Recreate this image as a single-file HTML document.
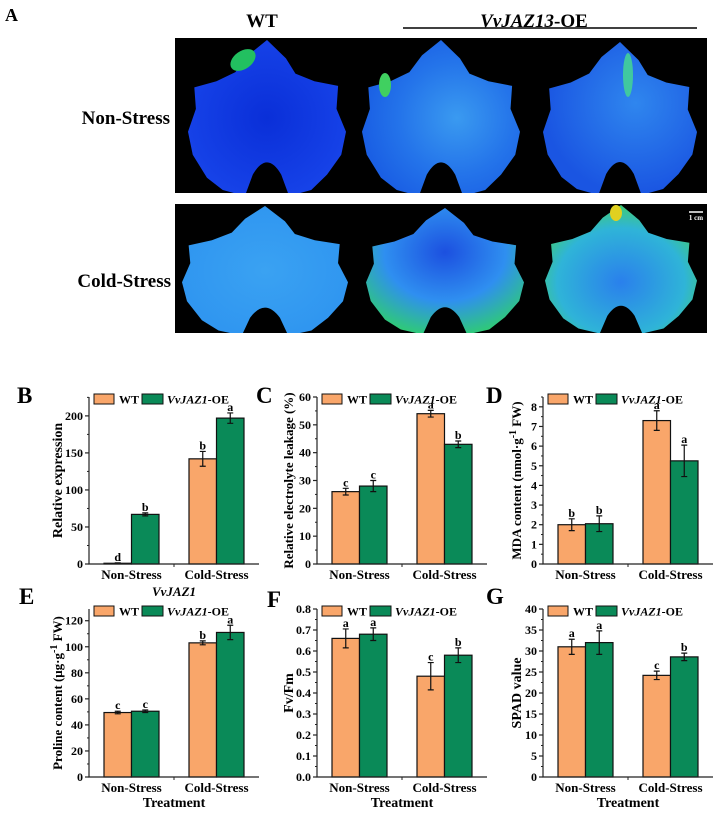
<!DOCTYPE html>
<html><head><meta charset="utf-8"><style>
html,body{margin:0;padding:0;background:#fff;}
svg text{font-family:"Liberation Serif",serif;font-weight:bold;}
</style></head><body>
<svg id="fig" width="719" height="811" viewBox="0 0 719 811" xmlns="http://www.w3.org/2000/svg">
<defs>
<radialGradient id="gWtNs" cx="0.5" cy="0.5" r="0.6"><stop offset="0" stop-color="#0a2fd8"/><stop offset="1" stop-color="#1845ea"/></radialGradient>
<radialGradient id="gOeNs1" cx="0.6" cy="0.5" r="0.6"><stop offset="0" stop-color="#3a9af0"/><stop offset="0.6" stop-color="#2474ea"/><stop offset="1" stop-color="#1a5fe4"/></radialGradient>
<radialGradient id="gOeNs2" cx="0.6" cy="0.4" r="0.6"><stop offset="0" stop-color="#2f86ee"/><stop offset="1" stop-color="#1a55e2"/></radialGradient>
<radialGradient id="gWtCs" cx="0.5" cy="0.5" r="0.6"><stop offset="0" stop-color="#3aa2f2"/><stop offset="1" stop-color="#2e94f0"/></radialGradient>
<radialGradient id="gOeCs1" cx="0.5" cy="0.35" r="0.7"><stop offset="0" stop-color="#1c50e0"/><stop offset="0.55" stop-color="#2f8ff0"/><stop offset="1" stop-color="#2fd06a"/></radialGradient>
<radialGradient id="gOeCs2" cx="0.5" cy="0.6" r="0.7"><stop offset="0" stop-color="#2a80ec"/><stop offset="0.6" stop-color="#2fb4d8"/><stop offset="1" stop-color="#48d840"/></radialGradient>
<clipPath id="clipTop"><rect x="175" y="38" width="532" height="155"/></clipPath>
<clipPath id="clipBot"><rect x="175" y="204" width="532" height="129"/></clipPath>
<path id="leaf" d="M50,0 L62,12 L68,22 L80,27 L95,30 L94,45 L100,60 L97,75 L88,88 L78,98 L64,102 L59,88 Q50,72 41,88 L36,102 L22,98 L12,90 L3,75 L0,60 L5,45 L4,31 L18,27 L30,21 L38,10 Z"/>
</defs>
<g>
<text x="5" y="21" font-size="18">A</text>
<text x="262" y="27" font-size="19" text-anchor="middle">WT</text>
<text x="534" y="27" font-size="19" text-anchor="middle"><tspan font-style="italic">VvJAZ13</tspan>-OE</text>
<line x1="403" y1="28" x2="697" y2="28" stroke="#000" stroke-width="1.5"/>
<text x="170" y="124" font-size="19" text-anchor="end">Non-Stress</text>
<text x="171" y="287" font-size="19" text-anchor="end">Cold-Stress</text>
<rect x="175" y="38" width="532" height="155" fill="#000"/>
<rect x="175" y="204" width="532" height="129" fill="#000"/>
<g clip-path="url(#clipTop)">
<g><use href="#leaf" transform="translate(188,40) scale(1.58,1.53)" fill="url(#gWtNs)"/><ellipse cx="243" cy="60" rx="14" ry="9" fill="#22c060" transform="rotate(-35 243 60)"/></g>
<g><use href="#leaf" transform="translate(362,40) scale(1.58,1.53)" fill="url(#gOeNs1)"/><ellipse cx="385" cy="85" rx="6" ry="12" fill="#40d060"/></g>
<g><use href="#leaf" transform="translate(543,42) scale(1.54,1.5)" fill="url(#gOeNs2)"/><ellipse cx="628" cy="75" rx="5" ry="22" fill="#40c8a0"/></g>
</g>
<g clip-path="url(#clipBot)">
<g><use href="#leaf" transform="translate(182,206) scale(1.66,1.27)" fill="url(#gWtCs)"/></g>
<g><use href="#leaf" transform="translate(366,208) scale(1.58,1.24)" fill="url(#gOeCs1)"/></g>
<g><use href="#leaf" transform="translate(545,205) scale(1.52,1.26)" fill="url(#gOeCs2)"/><ellipse cx="616" cy="213" rx="6" ry="8" fill="#e0d020"/></g>
</g>
<line x1="689" y1="212" x2="703" y2="212" stroke="#fff" stroke-width="1.5"/>
<text x="696" y="220" font-size="7" fill="#fff" text-anchor="middle" font-weight="normal">1 cm</text>
</g>
<g id="charts"></g>
</svg>
<script>
// Panel B
const bCategories = ["Non-Stress","Cold-Stress"];
const bWT = [1, 142];
const bOE = [67, 197];
const bWTErr = [0.5, 10];
const bOEErr = [2, 7];
const bWTLetters = ["d","b"];
const bOELetters = ["b","a"];
const bTicks = ["0","50","100","150","200"];
// Panel C
const cWT = [26, 54];
const cOE = [28, 43];
const cWTErr = [1.2, 1.2];
const cOEErr = [2, 1.2];
const cWTLetters = ["c","a"];
const cOELetters = ["c","b"];
const cTicks = ["0","10","20","30","40","50","60"];
// Panel D
const dWT = [2.0, 7.3];
const dOE = [2.05, 5.25];
const dWTErr = [0.3, 0.5];
const dOEErr = [0.4, 0.8];
const dWTLetters = ["b","a"];
const dOELetters = ["b","a"];
const dTicks = ["0","1","2","3","4","5","6","7","8"];
// Panel E
const eWT = [49.5, 103];
const eOE = [50.5, 111];
const eWTErr = [1, 1.5];
const eOEErr = [1, 5.5];
const eWTLetters = ["c","b"];
const eOELetters = ["c","a"];
const eTicks = ["0","20","40","60","80","100","120"];
// Panel F
const fWT = [0.66, 0.48];
const fOE = [0.68, 0.58];
const fWTErr = [0.045, 0.065];
const fOEErr = [0.03, 0.035];
const fWTLetters = ["a","c"];
const fOELetters = ["a","b"];
const fTicks = ["0.0","0.1","0.2","0.3","0.4","0.5","0.6","0.7","0.8"];
// Panel G
const gWT = [31, 24.2];
const gOE = [32, 28.6];
const gWTErr = [1.8, 1.0];
const gOEErr = [2.8, 0.9];
const gWTLetters = ["a","c"];
const gOELetters = ["a","b"];
const gTicks = ["0","5","10","15","20","25","30","35","40"];

const NS = "http://www.w3.org/2000/svg";
const root = document.getElementById("charts");
function mk(tag, attrs, parent, txt){
  const e = document.createElementNS(NS, tag);
  for (const k in attrs) e.setAttribute(k, attrs[k]);
  if (txt !== undefined) e.textContent = txt;
  parent.appendChild(e);
  return e;
}
const ORANGE = "#f9a66a", GREEN = "#0a8a58";

function chart(p){
  const g = mk("g", {}, root);
  
  
  const W = 170, x0 = p.x0, yb = p.yb, yt = p.yt;
  const ys = v => yb - (v / p.ymax) * (yb - yt);
  const xc = i => x0 + W * (0.25 + 0.5 * i);
  const bw = 27.5;
  const pl = mk("text", {x:p.lx, y:p.ly, "font-size":23}, g, p.id.toUpperCase());
  
  
  const series = [{v:p.wt, e:p.wte, l:p.wtl, c:ORANGE, off:-1, n:"wt"},{v:p.oe, e:p.oee, l:p.oel, c:GREEN, off:0, n:"oe"}];
  series.forEach(s => {
    s.v.forEach((v,i) => {
      const x = xc(i) + s.off * bw;
      const r = mk("rect", {x:x, y:ys(v), width:bw, height:yb - ys(v), fill:s.c, stroke:"#111", "stroke-width":1.2}, g);
      
      
      const cx = x + bw/2, ytop = ys(v + s.e[i]), ybot = ys(v - s.e[i]);
      const eb = mk("path", {d:`M${cx},${ytop}V${ybot}M${cx-3},${ytop}H${cx+3}M${cx-3},${ybot}H${cx+3}`, stroke:"#111", "stroke-width":1.2, fill:"none"}, g);
      
      
      const lt = mk("text", {x:cx, y:ytop - 2, "font-size":12, "text-anchor":"middle"}, g, s.l[i]);
      
      
    });
  });
  const ax = mk("path", {d:`M${x0},${yt}V${yb}H${x0+W}`, stroke:"#222", "stroke-width":1.2, fill:"none"}, g);
  
  
  mk("line", {x1:x0+W/2, y1:yb, x2:x0+W/2, y2:yb+3, stroke:"#222"}, g);
  const step = p.ymax_tick / (p.ticks.length - 1);
  p.ticks.forEach((t,i) => {
    const v = i * step, y = ys(v);
    mk("line", {x1:x0-4, y1:y, x2:x0, y2:y, stroke:"#222", "stroke-width":1.2}, g);
    const ym = ys(v + step/2);
    if (v + step/2 <= p.ymax) mk("line", {x1:x0-2, y1:ym, x2:x0, y2:ym, stroke:"#222"}, g);
    const tl = mk("text", {x:x0-6, y:y+4, "font-size":12, "text-anchor":"end"}, g, t);
    
    
  });
  bCategories.forEach((c,i) => {
    const t = mk("text", {x:xc(i), y:yb+15, "font-size":13, "text-anchor":"middle"}, g, c);
    
    
  });
  if (p.treat) {
    const t = mk("text", {x:x0+W/2, y:yb+30, "font-size":14, "text-anchor":"middle"}, g, "Treatment");
    
    
  }
  const yl = mk("text", {x:0, y:0, "font-size":p.tfs || 14, "text-anchor":"middle", transform:`translate(${p.tx},${(yt+yb)/2}) rotate(-90)`}, g);
  yl.innerHTML = p.title;
  
  
  const lg = mk("g", {}, g);
  
  
  const ly = yt - 3;
  mk("rect", {x:x0+5, y:ly, width:20, height:10, fill:ORANGE, stroke:"#111"}, lg);
  mk("text", {x:x0+30, y:ly+9.5, "font-size":12}, lg, "WT");
  mk("rect", {x:x0+53, y:ly, width:21, height:10, fill:GREEN, stroke:"#111"}, lg);
  const lt2 = mk("text", {x:x0+78, y:ly+9.5, "font-size":12}, lg);
  lt2.innerHTML = '<tspan font-style="italic">VvJAZ1</tspan>-OE';
}

chart({id:"b", x0:89, yb:564, yt:397, ymax:225.5, ymax_tick:200, ticks:bTicks, wt:bWT, oe:bOE, wte:bWTErr, oee:bOEErr, wtl:bWTLetters, oel:bOELetters, lx:17, ly:403, tx:62, title:"Relative expression"});
chart({id:"c", x0:317, yb:564, yt:397, ymax:60, ymax_tick:60, ticks:cTicks, wt:cWT, oe:cOE, wte:cWTErr, oee:cOEErr, wtl:cWTLetters, oel:cOELetters, lx:256, ly:403, tx:293, tfs:13, title:"Relative electrolyte leakage (%)"});
chart({id:"d", x0:543, yb:564, yt:397, ymax:8.5, ymax_tick:8, ticks:dTicks, wt:dWT, oe:dOE, wte:dWTErr, oee:dOEErr, wtl:dWTLetters, oel:dOELetters, lx:486, ly:403, tx:521, tfs:13, title:'MDA  content (nmol·g<tspan baseline-shift="super" font-size="10">-1</tspan> FW)'});
chart({id:"e", x0:89, yb:777, yt:609, ymax:129, ymax_tick:120, ticks:eTicks, wt:eWT, oe:eOE, wte:eWTErr, oee:eOEErr, wtl:eWTLetters, oel:eOELetters, lx:19, ly:604, tx:62, tfs:13, treat:true, title:'Proline  content (μg·g<tspan baseline-shift="super" font-size="10">-1</tspan> FW)'});
chart({id:"f", x0:317, yb:777, yt:609, ymax:0.8, ymax_tick:0.8, ticks:fTicks, wt:fWT, oe:fOE, wte:fWTErr, oee:fOEErr, wtl:fWTLetters, oel:fOELetters, lx:267, ly:607, tx:293, treat:true, title:"Fv/Fm"});
chart({id:"g", x0:543, yb:777, yt:609, ymax:40, ymax_tick:40, ticks:gTicks, wt:gWT, oe:gOE, wte:gWTErr, oee:gOEErr, wtl:gWTLetters, oel:gOELetters, lx:486, ly:604, tx:521, treat:true, title:"SPAD value"});
const sub = mk("text", {x:174, y:596, "font-size":13, "text-anchor":"middle", "font-style":"italic"}, root, "VvJAZ1");


</script>
</body></html>
